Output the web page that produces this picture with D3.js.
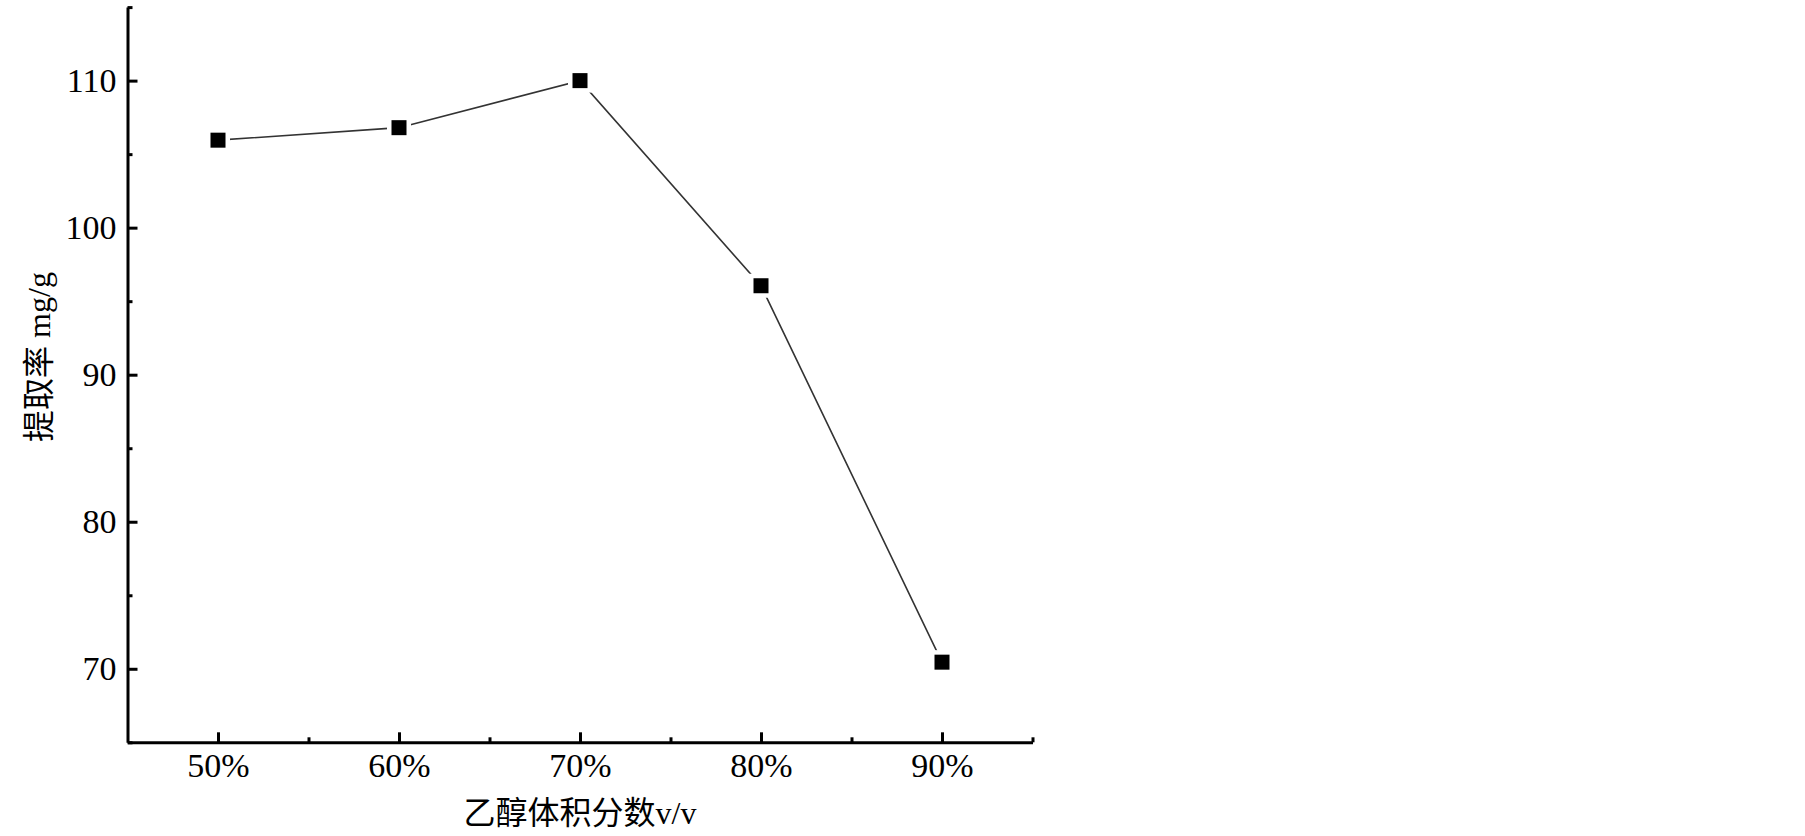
<!DOCTYPE html>
<html>
<head>
<meta charset="utf-8">
<script src="https://cdn.jsdelivr.net/npm/d3@7"></script>
<style>
  body { margin: 0; background: #fff; }
  svg text { font-family: "Liberation Serif", "Times New Roman", "Noto Sans CJK SC", serif; fill: #000; }
</style>
</head>
<body>
<div class="chart"></div>
<script>
// ethanol volume fraction (%) vs extraction yield (mg/g)
var ethanol = [50, 60, 70, 80, 90]
var yieldVals = [105.95, 106.8, 110, 96.05, 70.45]
var xMajor = [50, 60, 70, 80, 90]
var xMinor = [55, 65, 75, 85, 95]
var yMajor = [70, 80, 90, 100, 110]
var yMinor = [65, 75, 85, 95, 105, 115]

var svg = d3.select(".chart").append("svg")
  .attr("width", 1805)
  .attr("height", 836)

var x = d3.scaleLinear().domain([45, 95]).range([127.5, 1032.5])
var y = d3.scaleLinear().domain([65, 115]).range([742.3, 7.1])

// minor ticks first, majors on top
svg.append("g")
  .attr("transform", "translate(0," + y(65) + ")")
  .call(d3.axisBottom(x).tickValues(xMinor).tickFormat("").tickSizeInner(-5).tickSizeOuter(0))
  .call(function(g){ g.select(".domain").remove() })
  .selectAll("line").attr("stroke-width", 3)

svg.append("g")
  .attr("transform", "translate(" + x(45) + ",0)")
  .call(d3.axisLeft(y).tickValues(yMinor).tickFormat("").tickSizeInner(-5).tickSizeOuter(0))
  .call(function(g){ g.select(".domain").remove() })
  .selectAll("line").attr("stroke-width", 3)

var xAxis = svg.append("g")
  .attr("transform", "translate(0," + y(65) + ")")
  .call(d3.axisBottom(x).tickValues(xMajor).tickFormat(function(d){ return d + "%" })
    .tickSizeInner(-10).tickSizeOuter(0).tickPadding(11))
xAxis.select(".domain").attr("stroke-width", 3)
xAxis.selectAll("line").attr("stroke-width", 3)
xAxis.selectAll("text").style("font-size", "34px").attr("fill", "#000")

var yAxis = svg.append("g")
  .attr("transform", "translate(" + x(45) + ",0)")
  .call(d3.axisLeft(y).tickValues(yMajor).tickSizeInner(-10).tickSizeOuter(0).tickPadding(11))
yAxis.select(".domain").attr("stroke-width", 3)
yAxis.selectAll("line").attr("stroke-width", 3)
yAxis.selectAll("text").style("font-size", "34px").attr("fill", "#000")

var data = ethanol.map(function(d, i){ return {x: d, y: yieldVals[i]} })

var line = d3.line()
  .x(function(d){ return x(d.x) })
  .y(function(d){ return y(d.y) })

svg.append("path")
  .datum(data)
  .attr("fill", "none")
  .attr("stroke", "#333")
  .attr("stroke-width", 1.6)
  .attr("d", line)

// white halo leaves the little gap between line and marker
svg.selectAll(".halo")
  .data(data).enter().append("rect")
  .attr("class", "halo")
  .attr("x", function(d){ return x(d.x) - 12 })
  .attr("y", function(d){ return y(d.y) - 12 })
  .attr("width", 24)
  .attr("height", 24)
  .attr("fill", "#fff")

svg.selectAll(".pt")
  .data(data).enter().append("rect")
  .attr("class", "pt")
  .attr("x", function(d){ return x(d.x) - 7.5 })
  .attr("y", function(d){ return y(d.y) - 7.5 })
  .attr("width", 15)
  .attr("height", 15)
  .attr("fill", "#000")

svg.append("text")
  .attr("x", (x(45) + x(95)) / 2)
  .attr("y", 813)
  .attr("text-anchor", "middle")
  .attr("dominant-baseline", "central")
  .style("font-size", "32px")
  .text("乙醇体积分数v/v")

svg.append("text")
  .attr("transform", "translate(39,357) rotate(-90)")
  .attr("text-anchor", "middle")
  .attr("dominant-baseline", "central")
  .style("font-size", "32px")
  .text("提取率 mg/g")
</script>
</body>
</html>
